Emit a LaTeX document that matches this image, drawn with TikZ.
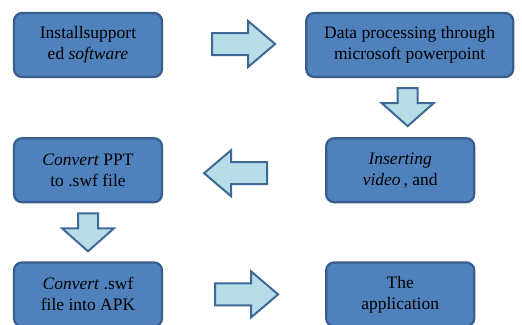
\documentclass[tikz,border=0pt]{standalone}
\usepackage{fontspec}
\setmainfont{Liberation Serif}
\usetikzlibrary{positioning}
\definecolor{boxblue}{HTML}{4F81BD}
\definecolor{boxline}{HTML}{385D8A}
\definecolor{arrowfill}{HTML}{B7DEE8}
\definecolor{arrowline}{HTML}{3E6996}

\begin{document}
\begin{tikzpicture}[x=1pt, y=1pt, node distance=58pt,
	b/.style={draw=boxline, fill=boxblue, line width=2.2pt, rounded corners=8pt, minimum width=148pt, minimum height=64pt, align=center, inner sep=0pt, font=\fontsize{17.5}{21}\selectfont},
	ar/.style={draw=arrowline, fill=arrowfill, line width=2pt, line join=miter}]
		\useasboundingbox (0,0) rectangle (522,-324);

		\node[b] (install) at (88,-45) {Installsupport\\ed \textit{software}};
		\node[b, minimum width=207pt, right=142pt of install] (process) {Data processing through\\microsoft powerpoint};
		\node[b, below=59pt of install] (convppt) {\textit{Convert} PPT\\to .swf file};
		\node[b, right=162pt of convppt] (insert) {\textit{Inserting}\\\textit{video}\,, and};
		\node[b, below=of convppt] (convswf) {\textit{Convert} .swf\\file into APK};
		\node[b, right=162pt of convswf] (app) {The\\application};

		\coordinate[right=49pt of install, yshift=1pt] (a1);
		\coordinate[below=10pt of process, xshift=-2pt] (a2);
		\coordinate[right=41pt of convppt, yshift=-3pt] (a3);
		\coordinate[below=10pt of convppt] (a4);
		\coordinate[right=52pt of convswf] (a5);

		% right arrows, from the tail
		\draw[ar] (a1) +(0,11) -- +(36,11) -- +(36,23) -- +(63,0) -- +(36,-23) -- +(36,-11) -- +(0,-11) -- cycle;
		\draw[ar] (a5) +(0,11) -- +(36,11) -- +(36,23) -- +(63,0) -- +(36,-23) -- +(36,-11) -- +(0,-11) -- cycle;
		% left arrow, from the tip
		\draw[ar] (a3) -- +(27,23) -- +(27,11) -- +(63,11) -- +(63,-11) -- +(27,-11) -- +(27,-23) -- cycle;
		% down arrows, from the tail
		\draw[ar] (a2) +(-10,0) -- +(10,0) -- +(10,-15) -- +(26,-15) -- +(0,-38) -- +(-26,-15) -- +(-10,-15) -- cycle;
		\draw[ar] (a4) +(-10,0) -- +(10,0) -- +(10,-15) -- +(26,-15) -- +(0,-38) -- +(-26,-15) -- +(-10,-15) -- cycle;
	\end{tikzpicture}
\end{document}
